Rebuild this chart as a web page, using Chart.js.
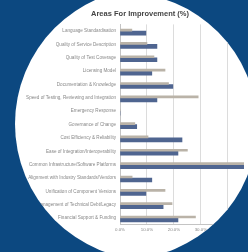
<!DOCTYPE html>
<html>
<head>
<meta charset="utf-8">
<script src="https://cdn.jsdelivr.net/npm/chart.js@4"></script>
<style>
  html, body { margin: 0; padding: 0; }
  body { width: 248px; height: 252px; background: #0c4880; overflow: hidden; position: relative; }
  .clip { position: absolute; left: 0; top: 0; width: 248px; height: 252px; }
  #outer { clip-path: circle(136px at 151px 124px); }
  #inner { clip-path: circle(133px at 124px 126px); background: #fff; }
  canvas { filter: blur(0.4px); }
</style>
</head>
<body>
<div id="outer" class="clip"><div id="inner" class="clip"><canvas id="chart" width="248" height="252"></canvas></div></div>
<script>
// rows, top to bottom
const categories = [
  "Language Standardisation",
  "Quality of Service Description",
  "Quality of Test Coverage",
  "Licensing Model",
  "Documentation & Knowledge",
  "Speed of Testing, Reviewing and Integration",
  "Emergency Response",
  "Governance of Change",
  "Cost Efficiency & Reliability",
  "Ease of Integration/Interoperability",
  "Common Infrastructure/Software Platforms",
  "Alignment with Industry Standards/Vendors",
  "Unification of Component Versions",
  "Management of Technical Debt/Legacy",
  "Financial Support & Funding"
];
const lightValues = [4.4, 10, 12.6, 16.7, 18, 29, 0, 5.5, 10.4, 25, 48, 4.5, 16.7, 19.3, 28];
const darkValues = [9.6, 13.7, 13.7, 11.8, 19.6, 13.7, 0, 6.2, 23, 21.5, 47, 11.8, 9.6, 16, 21.5];
const xTickLabels = ["0.0%", "10.0%", "20.0%", "30.0%", "40.0%"];
const titleText = "Areas For Improvement (%)";

// title sits off-centre in the picture (over the bars), so draw it ourselves
const offsetTitle = {
  id: "offsetTitle",
  afterDraw(chart) {
    const c = chart.ctx;
    c.save();
    c.font = "bold 7.5px 'Liberation Sans'";
    c.fillStyle = "#444";
    c.textAlign = "center";
    c.textBaseline = "middle";
    c.fillText(titleText, 140, 14);
    c.restore();
  }
};

const ctx = document.getElementById("chart").getContext("2d");
new Chart(ctx, {
  type: "bar",
  data: {
    labels: categories,
    datasets: [
      {
        label: "Light",
        data: lightValues,
        backgroundColor: "#bab3a8",
        barThickness: 2,
        categoryPercentage: 0.45,
        barPercentage: 1
      },
      {
        label: "Dark",
        data: darkValues,
        backgroundColor: "#4f6590",
        barThickness: 4,
        categoryPercentage: 0.45,
        barPercentage: 1
      }
    ]
  },
  plugins: [offsetTitle],
  options: {
    indexAxis: "y",
    responsive: false,
    animation: false,
    layout: { padding: { left: 0, right: 4, top: 24.4, bottom: 0 } },
    plugins: {
      legend: { display: false },
      tooltip: { enabled: false },
      title: { display: false }
    },
    scales: {
      x: {
        min: 0,
        max: 46,
        afterFit: (s) => { s.height = 27.3; },
        ticks: {
          stepSize: 10,
          padding: 2,
          color: "#888",
          font: { family: "Liberation Sans", size: 4.4 },
          callback: (v, i) => xTickLabels[i]
        },
        grid: { color: "#dcdcdc", drawTicks: false },
        border: { color: "#c4c4c4" }
      },
      y: {
        afterFit: (s) => { s.width = 120; },
        ticks: {
          padding: 4,
          color: "#888",
          font: { family: "Liberation Sans", size: 4.6 }
        },
        grid: { display: false, drawTicks: false },
        border: { color: "#c4c4c4" }
      }
    }
  }
});
</script>
</body>
</html>
